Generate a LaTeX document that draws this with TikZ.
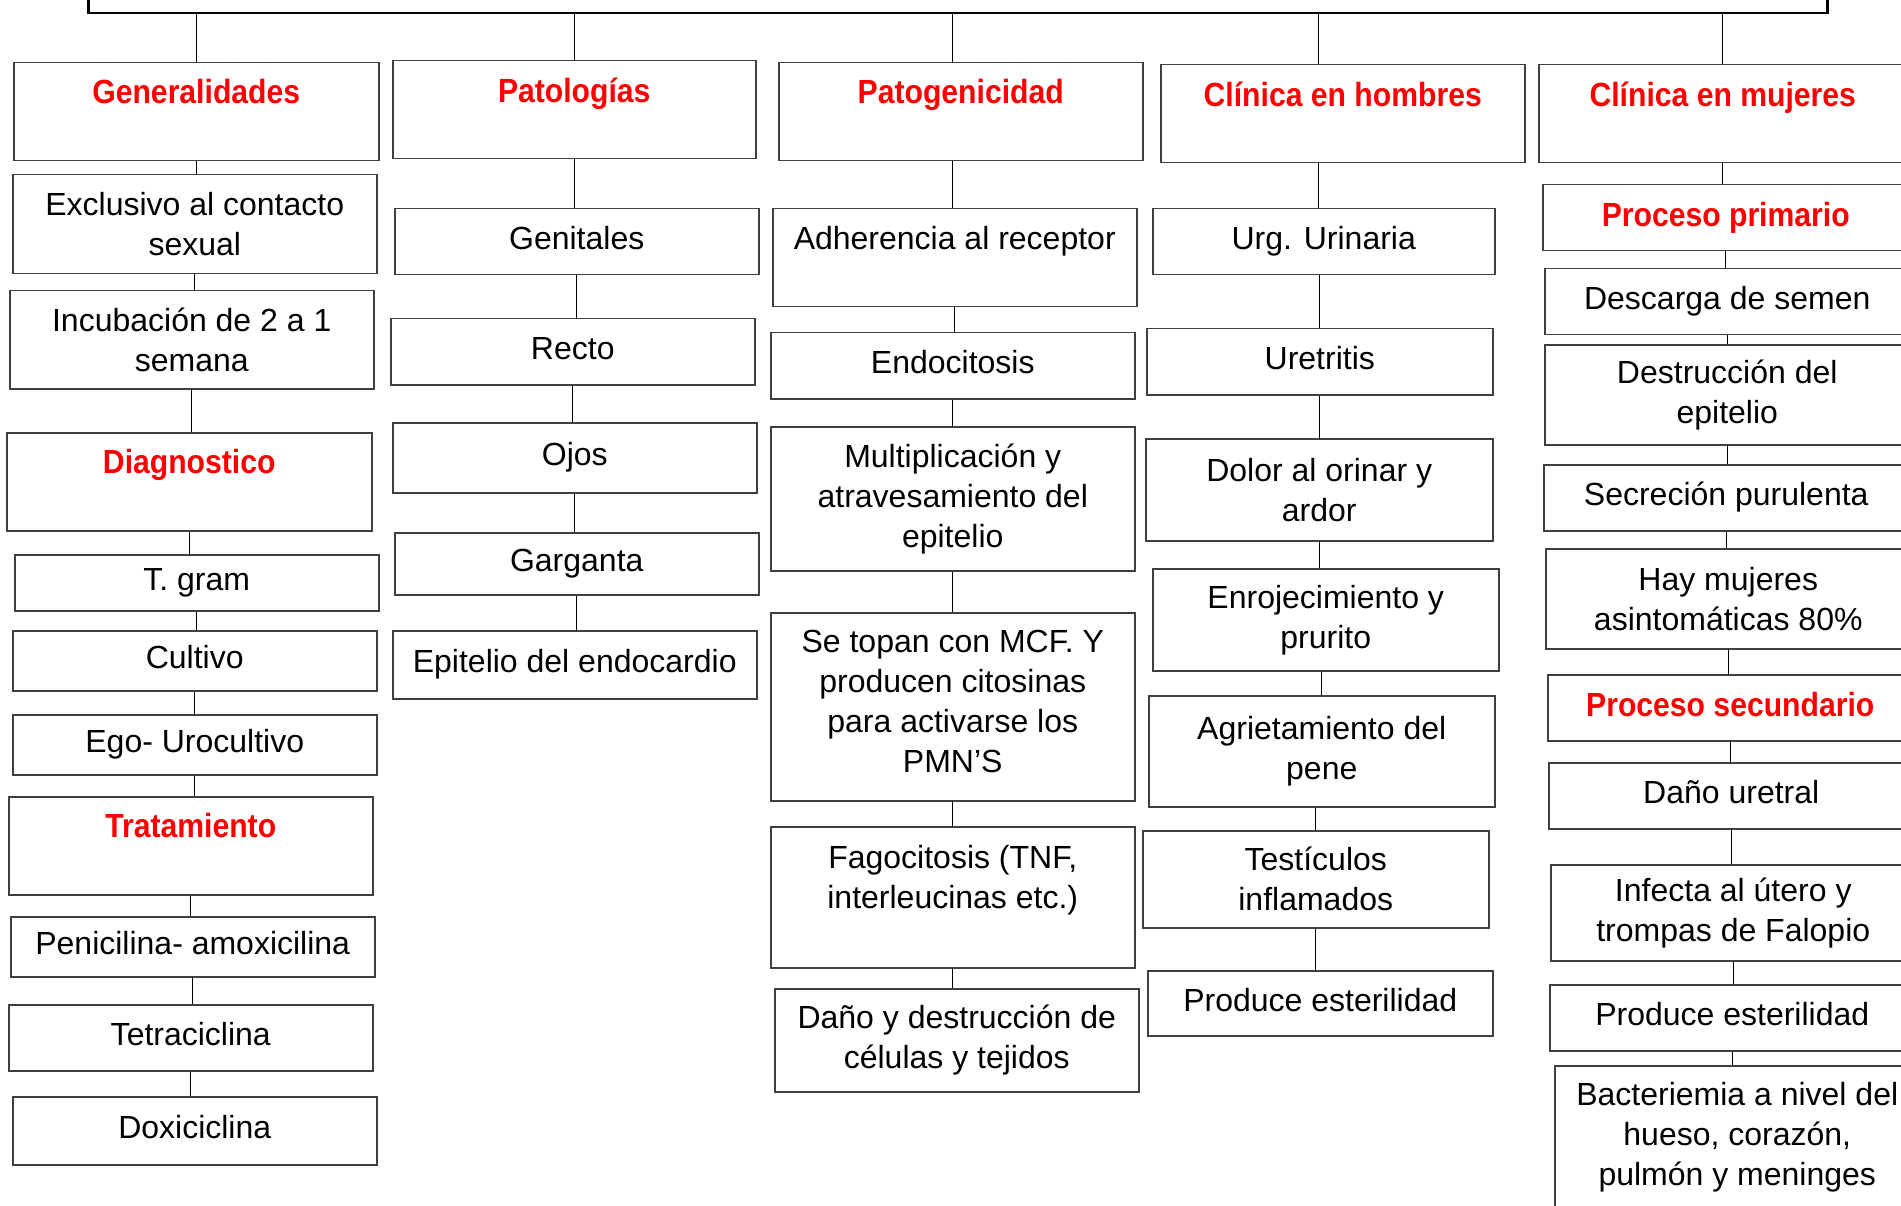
\documentclass[tikz,border=0pt]{standalone}
\usepackage{fontspec}
\setmainfont{Liberation Sans}
\newfontfamily\titulo{Liberation Sans}[FakeStretch=0.9]
\usepackage{tikz}

\begin{document}
\begin{tikzpicture}[
		x=1pt,
		y=-1pt,
		font=\fontsize{32pt}{40pt}\selectfont,
	]
		\tikzset{caja/.style={
			draw=black!75,
			line width=1.5,
			rectangle,
			inner sep=2,
			align=center,
			anchor=north west,
		}}
		\tikzset{cajau/.style={
			caja,
			text height=23,
			text depth=7,
		}}
		\tikzset{cajatit/.style={
			caja,
			text=red,
			font=\titulo\bfseries\fontsize{33.5pt}{40pt}\selectfont,
		}}
		\tikzset{cajatitu/.style={
			cajatit,
			text height=24,
			text depth=7,
		}}
		\tikzset{enlace/.style={
			black,
			line width=1,
		}}

		\useasboundingbox (0,0) rectangle (1901,1206);

		\node[
			draw,
			line width=2.5,
			minimum width=1739,
			minimum height=60,
			anchor=south west,
		] (tema) at (87,14.5) {};

		% Generalidades
		\node[cajatit, minimum width=365, minimum height=98] (gen) at (13,62) {Generalidades\\\rule{0pt}{0pt}};
		\node[caja, minimum width=364, minimum height=99] (excl) at (12,174) {Exclusivo al contacto\\sexual};
		\node[caja, minimum width=364, minimum height=98] (incu) at (9,290) {Incubación de 2 a 1\\semana};
		\node[cajatit, minimum width=365, minimum height=98] (diag) at (6,432) {Diagnostico\\\rule{0pt}{0pt}};
		\node[cajau, minimum width=364, minimum height=56] (tgram) at (14,554) {T. gram};
		\node[cajau, minimum width=364, minimum height=60] (cult) at (12,630) {Cultivo};
		\node[cajau, minimum width=364, minimum height=60] (ego) at (12,714) {Ego- Urocultivo};
		\node[cajatit, minimum width=364, minimum height=98] (trat) at (8,796) {Tratamiento\\\rule{0pt}{0pt}};
		\node[cajau, minimum width=364, minimum height=60] (peni) at (10,916) {Penicilina- amoxicilina};
		\node[cajau, minimum width=364, minimum height=66] (tetra) at (8,1004) {Tetraciclina};
		\node[cajau, minimum width=364, minimum height=68] (doxi) at (12,1096) {Doxiciclina};

		% Patologias
		\node[cajatit, minimum width=363, minimum height=98] (pat) at (392,60) {Patologías\\\rule{0pt}{0pt}};
		\node[cajau, minimum width=364, minimum height=66] (geni) at (394,208) {Genitales};
		\node[cajau, minimum width=364, minimum height=66] (recto) at (390,318) {Recto};
		\node[cajau, minimum width=364, minimum height=70] (ojos) at (392,422) {Ojos};
		\node[cajau, minimum width=364, minimum height=62] (garg) at (394,532) {Garganta};
		\node[cajau, minimum width=364, minimum height=68] (endo) at (392,630) {Epitelio del endocardio};

		% Patogenicidad
		\node[cajatit, minimum width=364, minimum height=98] (patog) at (778,62) {Patogenicidad\\\rule{0pt}{0pt}};
		\node[caja, minimum width=364, minimum height=98] (adhe) at (772,208) {Adherencia al receptor\\\rule{0pt}{0pt}};
		\node[cajau, minimum width=364, minimum height=66] (endoc) at (770,332) {Endocitosis};
		\node[caja, minimum width=364, minimum height=144] (multi) at (770,426) {Multiplicación y\\atravesamiento del\\epitelio};
		\node[caja, minimum width=364, minimum height=188] (mcf) at (770,612) {Se topan con MCF. Y\\producen citosinas\\para activarse los\\PMN’S\\[-30pt]\rule{0pt}{0pt}};
		\node[caja, minimum width=364, minimum height=141] (fago) at (770,826) {Fagocitosis (TNF,\\interleucinas etc.)\\\rule{0pt}{0pt}};
		\node[caja, minimum width=364, minimum height=103] (dano) at (774,988) {Daño y destrucción de\\células y tejidos};

		% Clinica en hombres
		\node[cajatit, minimum width=364, minimum height=98] (hom) at (1160,64) {Clínica en hombres\\\rule{0pt}{0pt}};
		\node[cajau, minimum width=342, minimum height=66] (urg) at (1152,208) {Urg. Urinaria};
		\node[cajau, minimum width=346, minimum height=66] (uret) at (1146,328) {Uretritis};
		\node[caja, minimum width=347, minimum height=102] (dolor) at (1145,438) {Dolor al orinar y\\ardor};
		\node[caja, minimum width=346, minimum height=102] (enro) at (1152,568) {Enrojecimiento y\\prurito};
		\node[caja, minimum width=346, minimum height=111] (agri) at (1148,695) {Agrietamiento del\\pene};
		\node[caja, minimum width=346, minimum height=97] (testi) at (1142,830) {Testículos\\inflamados};
		\node[cajau, minimum width=345, minimum height=65] (esth) at (1147,970) {Produce esterilidad};

		% Clinica en mujeres
		\node[cajatit, minimum width=368, minimum height=98] (muj) at (1538,64) {Clínica en mujeres\\\rule{0pt}{0pt}};
		\node[cajatitu, minimum width=366, minimum height=66] (prim) at (1542,184) {Proceso primario};
		\node[cajau, minimum width=365, minimum height=66] (desc) at (1544,268) {Descarga de semen};
		\node[caja, minimum width=365, minimum height=100] (destr) at (1544,344) {Destrucción del\\epitelio};
		\node[cajau, minimum width=365, minimum height=66] (secr) at (1543,464) {Secreción purulenta};
		\node[caja, minimum width=365, minimum height=100] (hay) at (1545,548) {Hay mujeres\\asintomáticas 80\%};
		\node[cajatitu, minimum width=365, minimum height=66] (secu) at (1547,674) {Proceso secundario};
		\node[cajau, minimum width=365, minimum height=66] (uretral) at (1548,762) {Daño uretral};
		\node[caja, minimum width=365, minimum height=96] (infecta) at (1550,864) {Infecta al útero y\\trompas de Falopio};
		\node[cajau, minimum width=365, minimum height=66] (estm) at (1549,984) {Produce esterilidad};
		\node[caja, minimum width=365, minimum height=142] (bact) at (1554,1065) {Bacteriemia a nivel del\\hueso, corazón,\\pulmón y meninges};

		% ramas desde el tema
		\coordinate (patogtop) at ([xshift=-8]patog.north);
		\coordinate (homtop) at ([xshift=-24]hom.north);
		\draw[enlace] (gen.north |- tema.south) -- (gen.north);
		\draw[enlace] (pat.north |- tema.south) -- (pat.north);
		\draw[enlace] (patogtop |- tema.south) -- (patogtop);
		\draw[enlace] (homtop |- tema.south) -- (homtop);
		\draw[enlace] (muj.north |- tema.south) -- (muj.north);

		\draw[enlace] (gen.south) -- (gen.south |- excl.north);
		\draw[enlace] (excl.south) -- (excl.south |- incu.north);
		\draw[enlace] (incu.south) -- (incu.south |- diag.north);
		\draw[enlace] (diag.south) -- (diag.south |- tgram.north);
		\draw[enlace] (tgram.south) -- (tgram.south |- cult.north);
		\draw[enlace] (cult.south) -- (cult.south |- ego.north);
		\draw[enlace] (ego.south) -- (ego.south |- trat.north);
		\draw[enlace] (trat.south) -- (trat.south |- peni.north);
		\draw[enlace] (peni.south) -- (peni.south |- tetra.north);
		\draw[enlace] (tetra.south) -- (tetra.south |- doxi.north);

		\draw[enlace] (pat.south) -- (pat.south |- geni.north);
		\draw[enlace] (geni.south) -- (geni.south |- recto.north);
		\draw[enlace] (recto.south) -- (recto.south |- ojos.north);
		\draw[enlace] (ojos.south) -- (ojos.south |- garg.north);
		\draw[enlace] (garg.south) -- (garg.south |- endo.north);

		\draw[enlace] (patogtop |- patog.south) -- (patogtop |- adhe.north);
		\draw[enlace] (adhe.south) -- (adhe.south |- endoc.north);
		\draw[enlace] (endoc.south) -- (endoc.south |- multi.north);
		\draw[enlace] (multi.south) -- (multi.south |- mcf.north);
		\draw[enlace] (mcf.south) -- (mcf.south |- fago.north);
		\draw[enlace] (fago.south) -- (fago.south |- dano.north);

		\draw[enlace] (homtop |- hom.south) -- (homtop |- urg.north);
		\draw[enlace] (uret.north |- urg.south) -- (uret.north);
		\draw[enlace] (uret.south) -- (uret.south |- dolor.north);
		\draw[enlace] (dolor.south) -- (dolor.south |- enro.north);
		\draw[enlace] (agri.north |- enro.south) -- (agri.north);
		\draw[enlace] (testi.north |- agri.south) -- (testi.north);
		\draw[enlace] (testi.south) -- (testi.south |- esth.north);

		\draw[enlace] (muj.south) -- (muj.south |- prim.north);
		\draw[enlace] (prim.south) -- (prim.south |- desc.north);
		\draw[enlace] (desc.south) -- (desc.south |- destr.north);
		\draw[enlace] (destr.south) -- (destr.south |- secr.north);
		\draw[enlace] (secr.south) -- (secr.south |- hay.north);
		\draw[enlace] (hay.south) -- (hay.south |- secu.north);
		\draw[enlace] (secu.south) -- (secu.south |- uretral.north);
		\draw[enlace] (uretral.south) -- (uretral.south |- infecta.north);
		\draw[enlace] (infecta.south) -- (infecta.south |- estm.north);
		\draw[enlace] (estm.south) -- (estm.south |- bact.north);
	\end{tikzpicture}
\end{document}
